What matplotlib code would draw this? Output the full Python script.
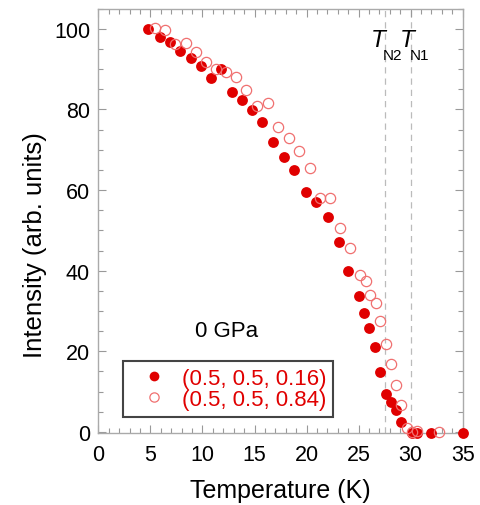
import matplotlib as mpl
mpl.use('Agg')
import matplotlib.pyplot as plt
from matplotlib.ticker import MultipleLocator

# (0.5, 0.5, 0.16) - filled
t_016 = [4.74, 5.87, 6.86, 7.85, 8.85, 9.84, 10.77, 11.76, 12.79, 13.75, 14.74,
         15.74, 16.73, 17.8, 18.8, 19.9, 20.9, 22.1, 23.1, 24.0, 25.0, 25.5, 26.0,
         26.6, 27.05, 27.6, 28.1, 28.6, 29.1, 30.1, 30.6, 32.0, 35.0]
i_016 = [100.0, 98.0, 96.6, 94.5, 92.7, 90.8, 87.7, 89.9, 84.4, 82.3, 79.8,
         77.0, 71.9, 68.2, 65.0, 59.6, 57.1, 53.2, 47.0, 39.9, 33.7, 29.4, 25.7,
         21.0, 14.8, 9.4, 7.5, 5.4, 2.5, -0.2, -0.2, -0.2, -0.2]

# (0.5, 0.5, 0.84) - open
t_084 = [5.48, 6.38, 7.37, 8.37, 9.36, 10.35, 11.28, 12.24, 13.24, 14.2, 15.26,
         16.25, 17.3, 18.3, 19.26, 20.3, 21.25, 22.24, 23.24, 24.2, 25.13, 25.67,
         26.1, 26.66, 27.1, 27.6, 28.1, 28.6, 29.1, 29.6, 30.1, 30.6, 32.7]
i_084 = [100.2, 99.6, 96.2, 96.4, 94.2, 91.8, 89.9, 89.4, 88.0, 84.8, 80.8,
         81.5, 75.7, 73.0, 69.7, 65.5, 58.0, 58.0, 50.5, 45.5, 39.0, 37.5,
         34.0, 31.9, 27.5, 21.9, 16.9, 11.6, 6.6, 0.9, 0.0, 0.2, 0.0]

tn2 = 27.5
tn1 = 30.0

plt.rcParams['font.family'] = ['Liberation Sans', 'DejaVu Sans']

fig = plt.figure(figsize=(4.8, 5.06), dpi=100)
ax = fig.add_axes([0.205, 0.142, 0.759, 0.839])

red = '#e00000'
pink = '#f07070'

ax.axvline(tn2, color='#bbbbbb', linestyle=(0, (5, 4)), linewidth=0.9, zorder=1)
ax.axvline(tn1, color='#bbbbbb', linestyle=(0, (5, 4)), linewidth=0.9, zorder=1)

ax.plot(t_016, i_016, 'o', color=red, markersize=7.8, markeredgewidth=0,
        label='(0.5, 0.5, 0.16)', clip_on=False, zorder=3)
ax.plot(t_084, i_084, 'o', markerfacecolor='none', markeredgecolor=pink,
        markersize=7.4, markeredgewidth=0.9, label='(0.5, 0.5, 0.84)',
        clip_on=False, zorder=4)

ax.set_xlim(0, 35)
ax.set_ylim(-0.3, 105)
ax.xaxis.set_major_locator(MultipleLocator(5))
ax.xaxis.set_minor_locator(MultipleLocator(1))
ax.yaxis.set_major_locator(MultipleLocator(20))
ax.yaxis.set_minor_locator(MultipleLocator(5))
ax.tick_params(which='both', direction='in', top=True, right=True,
               color='#999999', labelsize=15.5)
ax.tick_params(axis='x', pad=8)
ax.tick_params(axis='y', pad=6)
ax.tick_params(which='major', length=6, width=0.8)
ax.tick_params(which='minor', length=3.5, width=0.8)
for s in ax.spines.values():
    s.set_color('#aaaaaa')
    s.set_linewidth(1.0)

ax.set_xlabel('Temperature (K)', fontsize=18)
ax.set_ylabel('Intensity (arb. units)', fontsize=18.5)
ax.xaxis.set_label_coords(0.5, -0.135)
ax.xaxis.label.set_va('center')
ax.yaxis.set_label_coords(-0.174, 0.446)
ax.yaxis.label.set_va('center')

ax.text(12.3, 25.2, '0 GPa', fontsize=16, ha='center', va='center')
ax.text(26.87, 97.4, 'T', fontsize=17.5, ha='center', va='center',
        fontstyle='italic')
ax.text(28.25, 93.4, 'N2', fontsize=11, ha='center', va='center')
ax.text(29.63, 97.4, 'T', fontsize=17.5, ha='center', va='center',
        fontstyle='italic')
ax.text(30.85, 93.4, 'N1', fontsize=11, ha='center', va='center')

leg = ax.legend(loc='lower left', bbox_to_anchor=(0.067, 0.039), fontsize=16,
                labelcolor=[red, red], frameon=True, fancybox=False,
                handletextpad=0.15, borderpad=0.3, labelspacing=0.0,
                handlelength=2.2, markerscale=0.9, borderaxespad=0)
leg.get_frame().set_edgecolor('#444444')
leg.get_frame().set_linewidth(1.5)
leg.get_frame().set_alpha(1)

fig.savefig('out.png', dpi=100)
